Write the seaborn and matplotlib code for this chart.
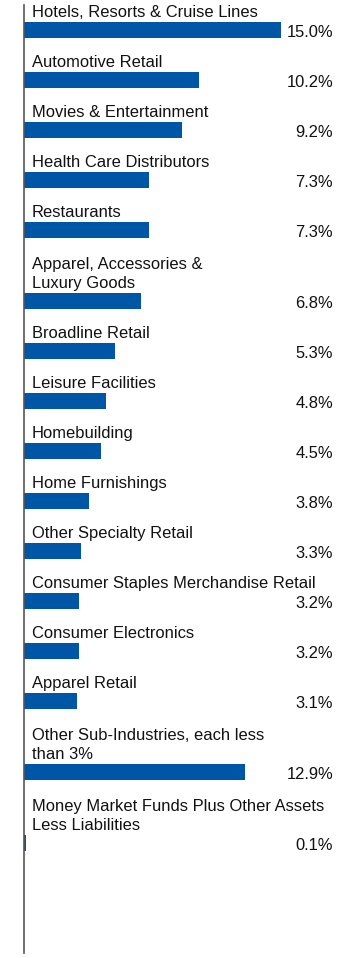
import matplotlib
matplotlib.use("Agg")
import matplotlib.pyplot as plt
import matplotlib.transforms as mtransforms
import numpy as np
import pandas as pd
import seaborn as sns

categories = [
    "Hotels, Resorts & Cruise Lines",
    "Automotive Retail",
    "Movies & Entertainment",
    "Health Care Distributors",
    "Restaurants",
    "Apparel, Accessories &\nLuxury Goods",
    "Broadline Retail",
    "Leisure Facilities",
    "Homebuilding",
    "Home Furnishings",
    "Other Specialty Retail",
    "Consumer Staples Merchandise Retail",
    "Consumer Electronics",
    "Apparel Retail",
    "Other Sub-Industries, each less\nthan 3%",
    "Money Market Funds Plus Other Assets\nLess Liabilities",
]
values = [15.0, 10.2, 9.2, 7.3, 7.3, 6.8, 5.3, 4.8, 4.5, 3.8, 3.3, 3.2, 3.2, 3.1, 12.9, 0.1]
value_labels = ["15.0%", "10.2%", "9.2%", "7.3%", "7.3%", "6.8%", "5.3%", "4.8%",
                "4.5%", "3.8%", "3.3%", "3.2%", "3.2%", "3.1%", "12.9%", "0.1%"]

# layout (pixel-like units on the y axis)
ROW = 50
EXTRA_LINE = 21
BAR_H = 16
nlines = [c.count("\n") + 1 for c in categories]
pos = []
cur = 30
for i, n in enumerate(nlines):
    if i == 0:
        cur = 30 + EXTRA_LINE * (n - 1)
    else:
        cur += ROW + EXTRA_LINE * (n - 1)
    pos.append(cur)

df = pd.DataFrame({"category": categories, "value": values, "pos": pos})

W, H = 360, 958
fig = plt.figure(figsize=(W / 100, H / 100), dpi=100)
top_px, bot_px, left_px = 5, 953, 24
ax = fig.add_axes([left_px / W, (H - bot_px) / H, (W - left_px) / W, (bot_px - top_px) / H])

sns.barplot(data=df, x="value", y="pos", orient="y", native_scale=True,
            width=BAR_H / ROW, color="#0056A6", saturation=1, ax=ax)

xmax = (W - left_px) / (257 / 15.0)
ax.set_xlim(0, xmax)
ax.set_ylim(bot_px, top_px)

fs = 11.9
font = ["Liberation Sans", "DejaVu Sans"]
trans = mtransforms.blended_transform_factory(ax.transAxes, ax.transData)
for c, v, lab, p in zip(categories, values, value_labels, pos):
    ax.text(8 / (W - left_px), p - BAR_H / 2 - 2.5, c, transform=trans, ha="left", va="bottom",
            fontsize=fs, family=font, color="#111111", linespacing=1.28)
    ax.text((333 - left_px) / (W - left_px), p + 2.5, lab, transform=trans, ha="right", va="center",
            fontsize=fs, family=font, color="#111111")

for s in ["top", "right", "bottom"]:
    ax.spines[s].set_visible(False)
ax.spines["left"].set_color("#555555")
ax.spines["left"].set_linewidth(1.2)
ax.set_xticks([])
ax.set_yticks([])
ax.set_xlabel("")
ax.set_ylabel("")
ax.patch.set_alpha(0)

fig.savefig("out.png", dpi=100)
